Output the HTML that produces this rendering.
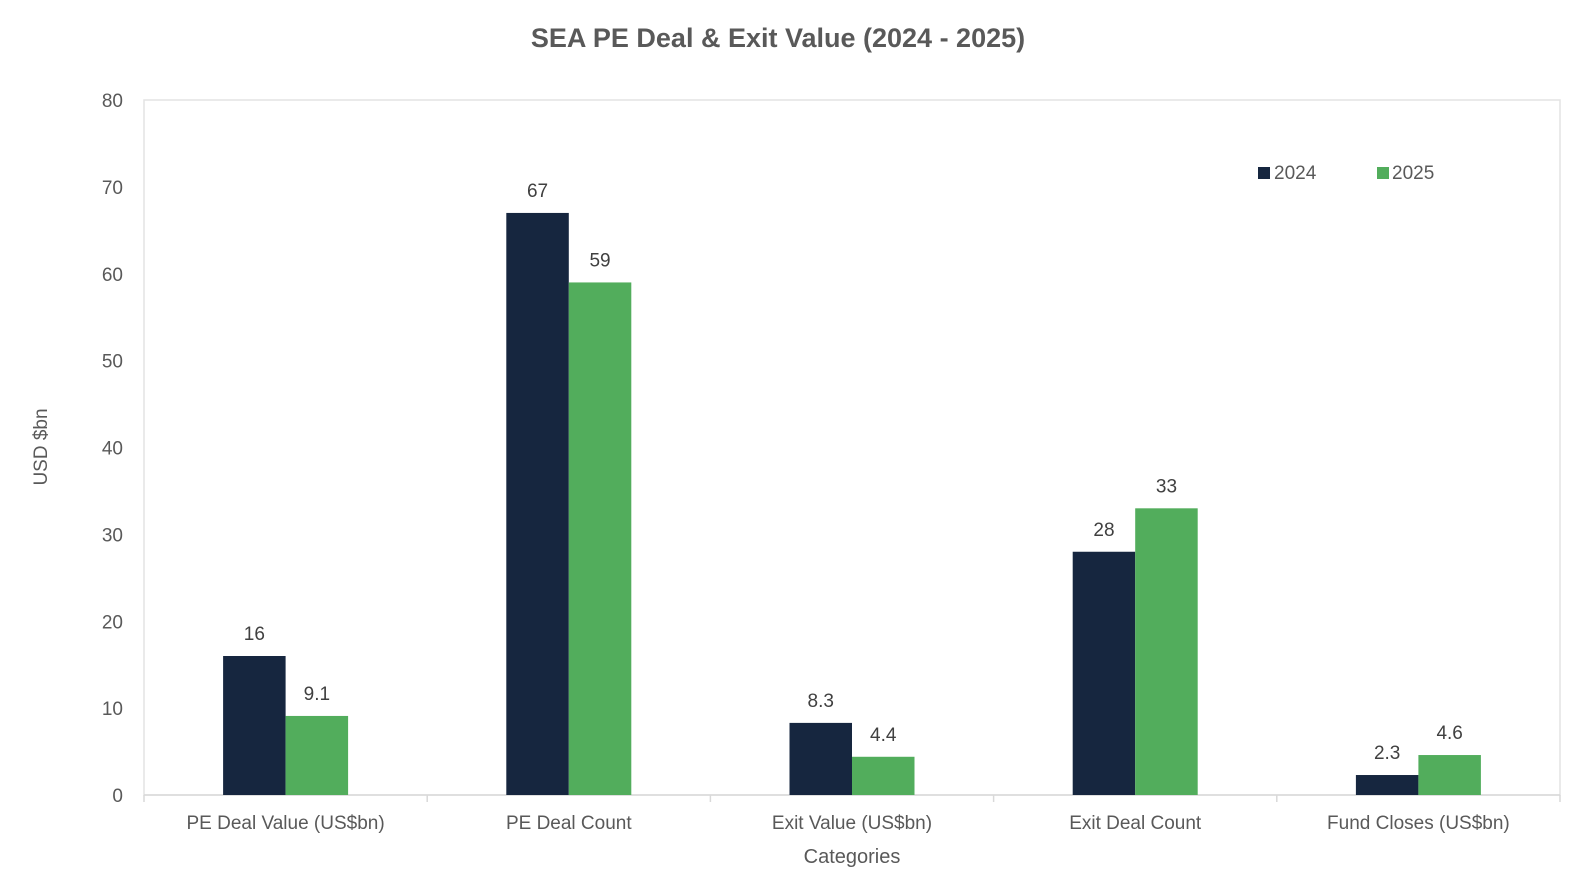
<!DOCTYPE html>
<html><head><meta charset="utf-8"><style>
body{margin:0;background:#fff}
svg{display:block;font-family:"Liberation Sans",sans-serif}
</style></head><body>
<svg width="1594" height="894">
<text x="778" y="47" text-anchor="middle" font-size="27" font-weight="bold" fill="#595959">SEA PE Deal &amp; Exit Value (2024 - 2025)</text>
<rect x="144" y="100" width="1416" height="695" fill="none" stroke="#e3e3e3" stroke-width="1.5"/>
<g id="yaxis"></g>
<g id="xaxis"></g>
<g id="bars"></g>
<text transform="translate(47,447) rotate(-90)" text-anchor="middle" font-size="19" fill="#595959">USD $bn</text>
<text x="852" y="863" text-anchor="middle" font-size="20" fill="#595959">Categories</text>
<g>
<rect x="1258" y="167" width="12" height="12" fill="#16263f"/>
<text x="1274" y="179" font-size="19" fill="#595959">2024</text>
<rect x="1377" y="167" width="12" height="12" fill="#52ad5c"/>
<text x="1392" y="179" font-size="19" fill="#595959">2025</text>
</g>
</svg>
<script>
const categories=["PE Deal Value (US$bn)","PE Deal Count","Exit Value (US$bn)","Exit Deal Count","Fund Closes (US$bn)"];
const values2024=[16,67,8.3,28,2.3];
const values2025=[9.1,59,4.4,33,4.6];
const yTicks=[0,10,20,30,40,50,60,70,80];
const NS="http://www.w3.org/2000/svg";
const x0=144,x1=1560,y0=795,y1=100,yMax=80;
const y=v=>y0-(v/yMax)*(y0-y1);
const band=(x1-x0)/categories.length;
const bw=62.5;
function mk(tag,attrs,parent,text){const e=document.createElementNS(NS,tag);for(const k in attrs)e.setAttribute(k,attrs[k]);if(text!==undefined)e.textContent=text;parent.appendChild(e);return e;}
const ya=document.getElementById('yaxis'),xa=document.getElementById('xaxis'),bg=document.getElementById('bars');
yTicks.forEach(t=>{const e=mk('text',{x:123,y:y(t)+7,'text-anchor':'end','font-size':19,fill:'#595959'},ya,t);

});
mk('line',{x1:x0,x2:x1,y1:y0,y2:y0,stroke:'#d9d9d9','stroke-width':1.5},xa);
for(let i=0;i<=categories.length;i++){const l=mk('line',{x1:x0+i*band,x2:x0+i*band,y1:y0,y2:y0+7,stroke:'#d9d9d9','stroke-width':1.5},xa);

}
categories.forEach((c,i)=>{const cx=x0+band*(i+0.5);
const t=mk('text',{x:cx,y:829,'text-anchor':'middle','font-size':19,fill:'#595959'},xa,c);


[[values2024[i],'#16263f',cx-bw],[values2025[i],'#52ad5c',cx]].forEach(([v,col,bx],s)=>{
const r=mk('rect',{x:bx,y:y(v),width:bw,height:y0-y(v),fill:col},bg);


const lb=mk('text',{x:bx+bw/2,y:y(v)-16,'text-anchor':'middle','font-size':19,fill:'#404040'},bg,v);

});});
</script>
</body></html>
